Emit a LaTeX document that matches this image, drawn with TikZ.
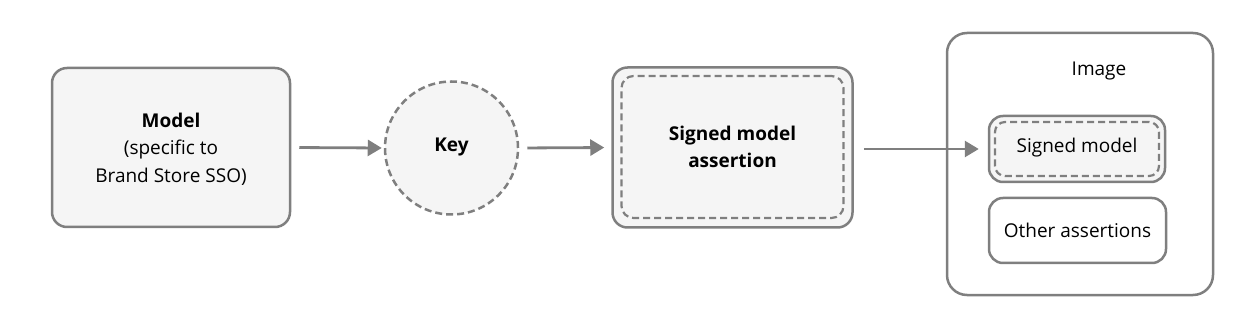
\documentclass[tikz,border=0pt]{standalone}
\usepackage{fontspec}
\setmainfont{Open Sans}
\usetikzlibrary{arrows.meta,shapes.geometric}
\definecolor{edge}{HTML}{7F7F7F}
\definecolor{fillg}{HTML}{F5F5F5}
\tikzset{
  box/.style={draw=edge, line width=2.5pt, rounded corners=15pt, fill=fillg, align=center, inner sep=0pt},
  dbox/.style={draw=edge, line width=2.2pt, dashed, dash pattern=on 7pt off 4pt, rounded corners=12pt, inner sep=0pt},
  conn/.style={draw=edge, line width=2.8pt, -{Triangle[length=14pt,width=16pt]}},
  lbl/.style={font=\fontsize{19}{27.5}\selectfont, align=center, text=black}
}
\begin{document}
\begin{tikzpicture}[x=1pt,y=-1pt]
\useasboundingbox (0,0) rectangle (1260,320);
% Model
\node[box, minimum width=238pt, minimum height=159pt] (model) at (171,147.5) {};
\node[lbl] (modeltxt) at (171,149) {\textbf{Model}\\(specific to\\Brand Store SSO)};
% Key
\node[draw=edge, line width=2.5pt, dash pattern=on 7pt off 4pt, circle, fill=fillg, minimum size=133pt, inner sep=0pt] (key) at (451.5,148) {};
\node[lbl] (keytxt) at (451.5,147) {\textbf{Key}};
% Signed model assertion
\node[box, minimum width=240pt, minimum height=160pt] (sma) at (732.5,147.5) {};
\node[dbox, minimum width=222pt, minimum height=142pt, rounded corners=12pt] (smain) at (732.5,147) {};
\node[lbl] (smatxt) at (732.5,147) {\textbf{Signed model}\\\textbf{assertion}};
% Image container
\node[draw=edge, line width=2.5pt, rounded corners=20pt, minimum width=266pt, minimum height=262pt, inner sep=0pt] (image) at (1080,164) {};
\node[lbl] (imagetxt) at (1099,71) {Image};
% Signed model
\node[box, minimum width=176pt, minimum height=66pt, rounded corners=14pt] (sm) at (1077,149) {};
\node[dbox, minimum width=164pt, minimum height=54pt, rounded corners=10pt] (smin) at (1077,149) {};
\node[lbl] (smtxt) at (1077,148) {Signed model};
% Other assertions
\node[box, fill=white, minimum width=177pt, minimum height=65pt, rounded corners=14pt] (oa) at (1077.5,230.5) {};
\node[lbl] (oatxt) at (1077.5,230) {Other assertions};
% connectors
\draw[conn, shorten <=8pt, shorten >=2pt] (model.east) -- (key.west);
\draw[conn, shorten <=8pt, shorten >=7pt] (key.east) -- (sma.west);
\draw[conn, shorten <=10pt, shorten >=9pt] (sma.east |- sm.west) -- (sm.west);
\end{tikzpicture}
\end{document}
